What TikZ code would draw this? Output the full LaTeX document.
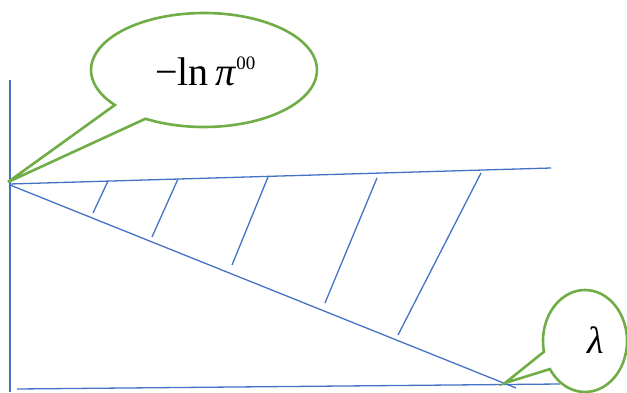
\documentclass[tikz,border=0pt]{standalone}
\usepackage{fontspec}
\setmainfont{Liberation Serif}
\usetikzlibrary{calc}
\definecolor{axblue}{HTML}{4472C4}
\definecolor{cgreen}{HTML}{70AD47}
\begin{document}
\begin{tikzpicture}[x=1pt,y=1pt,
  axis/.style={draw=axblue,line width=1.3pt},
  hatch/.style={draw=axblue,line width=1.3pt},
  callout/.style={draw=cgreen,fill=white,line width=2.6pt,line join=miter}]
\useasboundingbox (0,0) rectangle (627,392);
\clip (0,0) rectangle (627,392);
% axes and lines
\coordinate (O) at (10,207);
\coordinate (vtop) at (10,312);
\coordinate (vbot) at (10,0);
\coordinate (upR) at (551,224);
\coordinate (upL) at (10,208);
\coordinate (diagE) at (516,4);
\coordinate (botL) at (17,3);
\coordinate (botR) at (560,8);
\draw[axis] (vtop) -- (vbot);
\draw[axis] (upL) -- (upR);
\draw[axis] (O) -- (diagE);
\draw[axis] (botL) -- (botR);
% hatch lines
\foreach \i/\a/\b/\c/\d in {1/108/211/93/179, 2/178/213/152/155, 3/268/215/232/127, 4/377/214/325/89, 5/481/219/398/57}{
  \coordinate (h\i a) at (\a,\b);
  \coordinate (h\i b) at (\c,\d);
  \draw[hatch] (h\i a) -- (h\i b);
}
% top callout
\coordinate (c1) at (204,322);
\coordinate (tip1) at (8,210);
\draw[callout] ($(c1)+(238.8:113 and 57)$) arc[start angle=238.8, end angle=577.9, x radius=113, y radius=57] -- (tip1) -- cycle;
\node[anchor=base west, inner sep=0pt, font=\fontsize{40}{40}\selectfont] (t1) at (155,306) {−ln\,\textit{π}\raisebox{17pt}{\fontsize{19}{19}\selectfont 00}};
% lambda callout
\coordinate (c2) at (585,51);
\coordinate (tip2) at (505,9);
\draw[callout] ($(c2)+(213.4:42 and 51)$) arc[start angle=213.4, end angle=552.2, x radius=42, y radius=51] -- (tip2) -- cycle;
\node[anchor=base west, inner sep=0pt, font=\fontsize{38}{38}\selectfont] (t2) at (587,39) {\textit{λ}};
\end{tikzpicture}
\end{document}
